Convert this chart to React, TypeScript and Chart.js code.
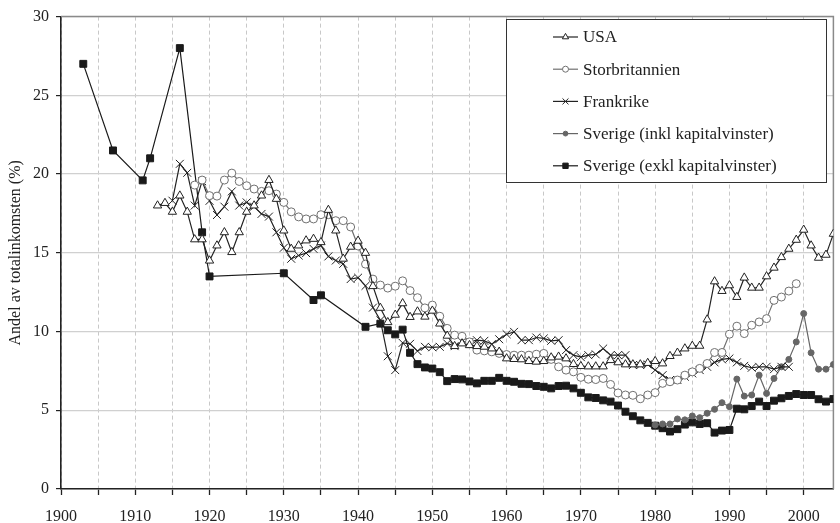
import React, { useEffect, useRef } from 'react';
import { Chart, registerables } from 'chart.js';

Chart.register(...registerables);

const FONT = '"Liberation Serif", "DejaVu Serif", serif';

const seriesNames = [
  'USA',
  'Storbritannien',
  'Frankrike',
  'Sverige (inkl kapitalvinster)',
  'Sverige (exkl kapitalvinster)',
];

const yTicks = [0, 5, 10, 15, 20, 25, 30];
const xGridYears = [
  1900, 1905, 1910, 1915, 1920, 1925, 1930, 1935, 1940, 1945, 1950,
  1955, 1960, 1965, 1970, 1975, 1980, 1985, 1990, 1995, 2000,
];
const xTickLabels = ['1900', '1910', '1920', '1930', '1940', '1950', '1960', '1970', '1980', '1990', '2000'];

// USA, 1913–2004
const usaStart = 1913;
const usaValues = [
  18.0, 18.16, 17.6, 18.63, 17.6, 15.85, 15.85, 14.5, 15.46, 16.3,
  15.04, 16.3, 17.6, 18.0, 18.63, 19.62, 18.42, 16.41, 15.25, 15.46,
  15.78, 15.88, 15.67, 17.72, 16.41, 14.62, 15.38, 15.76, 14.99, 12.88,
  11.5, 10.59, 11.06, 11.79, 10.92, 11.27, 10.94, 11.32, 10.5, 9.73,
  9.07, 9.24, 9.13, 9.07, 9.03, 8.92, 8.71, 8.29, 8.25, 8.23,
  8.12, 8.08, 8.12, 8.35, 8.4, 8.29, 7.93, 7.8, 7.78, 7.78,
  7.78, 8.18, 8.04, 7.91, 7.91, 7.91, 8.0, 8.12, 7.97, 8.44,
  8.65, 8.92, 9.09, 9.09, 10.76, 13.18, 12.57, 12.93, 12.19, 13.42,
  12.78, 12.78, 13.5, 14.05, 14.72, 15.25, 15.82, 16.46, 15.46, 14.68,
  14.87, 16.2,
];

// Storbritannien, 1918–1999
const ukStart = 1918;
const ukValues = [
  19.3, 19.62, 18.63, 18.6, 19.62, 20.06, 19.53, 19.26, 19.05, 18.9,
  18.94, 18.73, 18.2, 17.6, 17.28, 17.15, 17.15, 17.42, 17.42, 17.04,
  17.04, 16.64, 15.43, 14.28, 13.33, 12.95, 12.76, 12.88, 13.22, 12.6,
  12.15, 11.5, 11.68, 10.97, 10.2, 9.77, 9.7, 9.34, 8.82, 8.77,
  8.71, 8.61, 8.54, 8.5, 8.5, 8.5, 8.56, 8.61, 8.23, 7.76,
  7.55, 7.44, 7.09, 6.97, 6.95, 7.02, 6.64, 6.1, 5.97, 5.95,
  5.73, 5.97, 6.12, 6.71, 6.81, 6.92, 7.23, 7.44, 7.66, 7.97,
  8.67, 8.67, 9.83, 10.34, 9.87, 10.4, 10.61, 10.82, 11.98, 12.19,
  12.57, 13.04,
];

// Frankrike, 1915–1998
const frStart = 1915;
const frValues = [
  18.31, 20.65, 20.08, 18.0, 19.55, 18.3, 17.4, 17.93, 18.9, 18.0,
  18.2, 17.93, 17.47, 17.3, 16.3, 15.32, 14.62, 14.83, 14.98, 15.25,
  15.46, 14.77, 14.51, 14.3, 13.33, 13.42, 12.9, 11.52, 10.72, 8.43,
  7.55, 9.28, 9.22, 8.76, 9.03, 9.0, 9.03, 9.24, 9.07, 9.34,
  9.34, 9.45, 9.41, 9.2, 9.51, 9.83, 9.98, 9.45, 9.45, 9.62,
  9.56, 9.41, 9.45, 8.82, 8.5, 8.37, 8.5, 8.55, 8.92, 8.5,
  8.5, 8.5, 7.87, 7.87, 7.91, 7.55, 7.23, 6.92, 6.92, 7.13,
  7.34, 7.55, 7.76, 8.04, 8.23, 8.29, 8.04, 7.82, 7.7, 7.76,
  7.76, 7.61, 7.76, 7.76,
];

// Sverige inkl kapitalvinster, 1980–2004
const seInklStart = 1980;
const seInklValues = [
  4.07, 4.13, 4.13, 4.45, 4.39, 4.64, 4.53, 4.81, 5.06, 5.48,
  5.23, 6.98, 5.9, 5.97, 7.23, 6.07, 7.02, 7.76, 8.23, 9.34,
  11.14, 8.65, 7.61, 7.61, 7.91,
];

// Sverige exkl kapitalvinster: scattered early years, then 1943–2004
const seExklEarlyYears = [1903, 1907, 1911, 1912, 1916, 1919, 1920, 1930, 1934, 1935, 1941];
const seExklEarlyValues = [27.0, 21.5, 19.6, 21.0, 28.0, 16.3, 13.5, 13.7, 12.0, 12.3, 10.3];
const seExklStart = 1943;
const seExklValues = [
  10.5, 10.08, 9.82, 10.12, 8.65, 7.93, 7.72, 7.65, 7.42, 6.85,
  6.98, 6.96, 6.83, 6.71, 6.87, 6.87, 7.06, 6.87, 6.81, 6.68,
  6.66, 6.54, 6.49, 6.39, 6.54, 6.56, 6.39, 6.11, 5.82, 5.78,
  5.63, 5.55, 5.3, 4.91, 4.62, 4.36, 4.2, 4.02, 3.86, 3.65,
  3.8, 4.09, 4.23, 4.13, 4.18, 3.58, 3.71, 3.75, 5.1, 5.06,
  5.27, 5.55, 5.27, 5.61, 5.76, 5.91, 6.03, 5.97, 5.97, 5.7,
  5.55, 5.71,
];

const fromStart = (start: number, vals: number[]) => vals.map((v, i) => ({ x: start + i, y: v }));
const fromYears = (years: number[], vals: number[]) => vals.map((v, i) => ({ x: years[i], y: v }));

const styles = [
  { style: 'triangle', r: 4.8, bg: '#ffffff', bc: '#222222', line: '#222222', lr: 3.6 },
  { style: 'circle', r: 4, bg: '#ffffff', bc: '#707070', line: '#707070', lr: 3 },
  { style: 'crossRot', r: 5.6, bg: '#222222', bc: '#222222', line: '#222222', lr: 4.2 },
  { style: 'circle', r: 3, bg: '#666666', bc: '#666666', line: '#666666', lr: 2.4 },
  { style: 'rect', r: 4.9, bg: '#1a1a1a', bc: '#1a1a1a', line: '#1a1a1a', lr: 3.8 },
];

function drawMarker(ctx: CanvasRenderingContext2D, kind: string, x: number, y: number, r: number, bg: string, bc: string) {
  ctx.save();
  ctx.lineWidth = 1;
  ctx.strokeStyle = bc;
  ctx.fillStyle = bg;
  ctx.beginPath();
  if (kind === 'triangle') {
    ctx.moveTo(x, y - r);
    ctx.lineTo(x + r * 0.866, y + r * 0.5);
    ctx.lineTo(x - r * 0.866, y + r * 0.5);
    ctx.closePath();
    ctx.fill();
    ctx.stroke();
  } else if (kind === 'circle') {
    ctx.arc(x, y, r, 0, Math.PI * 2);
    ctx.fill();
    ctx.stroke();
  } else if (kind === 'crossRot') {
    const d = r * 0.707;
    ctx.moveTo(x - d, y - d);
    ctx.lineTo(x + d, y + d);
    ctx.moveTo(x + d, y - d);
    ctx.lineTo(x - d, y + d);
    ctx.stroke();
  } else {
    const s = r * 0.707;
    ctx.rect(x - s, y - s, 2 * s, 2 * s);
    ctx.fill();
    ctx.stroke();
  }
  ctx.restore();
}

const framePlugin = {
  id: 'frame',
  beforeDatasetsDraw(chart: any) {
    const { ctx, chartArea } = chart;
    ctx.save();
    ctx.strokeStyle = '#8a8a8a';
    ctx.lineWidth = 1.5;
    ctx.beginPath();
    ctx.moveTo(chartArea.left, chartArea.top);
    ctx.lineTo(chartArea.right, chartArea.top);
    ctx.lineTo(chartArea.right, chartArea.bottom);
    ctx.stroke();
    ctx.restore();
  },
};

const legendPlugin = {
  id: 'boxLegend',
  afterDatasetsDraw(chart: any) {
    const { ctx } = chart;
    const bx = 506.5, by = 19.5, bw = 320, bh = 163;
    ctx.save();
    ctx.fillStyle = '#ffffff';
    ctx.fillRect(bx, by, bw, bh);
    ctx.strokeStyle = '#333333';
    ctx.lineWidth = 1;
    ctx.strokeRect(bx, by, bw, bh);
    ctx.font = `17px ${FONT}`;
    ctx.textBaseline = 'middle';
    ctx.textAlign = 'left';
    seriesNames.forEach((name, i) => {
      const y = 37 + i * 32.2;
      const s = styles[i];
      ctx.strokeStyle = s.line;
      ctx.lineWidth = 1.2;
      ctx.beginPath();
      ctx.moveTo(553, y);
      ctx.lineTo(578, y);
      ctx.stroke();
      drawMarker(ctx, s.style, 565.5, y, s.lr, s.bg, s.bc);
      ctx.fillStyle = '#222222';
      ctx.fillText(name, 583, y + 1);
    });
    ctx.restore();
  },
};

export default function App() {
  const ref = useRef<HTMLCanvasElement | null>(null);

  useEffect(() => {
    document.body.style.margin = '0';
    const canvas = ref.current;
    if (!canvas) return;

    const allData = [
      fromStart(usaStart, usaValues),
      fromStart(ukStart, ukValues),
      fromStart(frStart, frValues),
      fromStart(seInklStart, seInklValues),
      [...fromYears(seExklEarlyYears, seExklEarlyValues), ...fromStart(seExklStart, seExklValues)],
    ];

    const chart = new Chart(canvas, {
      type: 'line',
      data: {
        datasets: allData.map((d, i) => ({
          label: seriesNames[i],
          data: d,
          borderColor: styles[i].line,
          borderWidth: 1.2,
          pointStyle: styles[i].style as any,
          pointRadius: styles[i].r,
          pointBackgroundColor: styles[i].bg,
          pointBorderColor: styles[i].bc,
          pointBorderWidth: 1,
          tension: 0,
          fill: false,
        })),
      },
      options: {
        animation: false,
        responsive: false,
        devicePixelRatio: 1,
        layout: { padding: { top: 15, right: 3, left: 0, bottom: 0 } },
        plugins: {
          legend: { display: false },
          tooltip: { enabled: false },
        },
        scales: {
          x: {
            type: 'linear',
            min: 1900,
            max: 2004,
            afterBuildTicks: (scale: any) => {
              scale.ticks = xGridYears.map((v) => ({ value: v }));
            },
            afterFit: (scale: any) => {
              scale.height = 34;
            },
            ticks: {
              autoSkip: false,
              maxRotation: 0,
              padding: 12,
              color: '#222',
              font: { family: FONT, size: 16 },
              callback: (v: any) => {
                const s = String(Math.round(Number(v)));
                return xTickLabels.includes(s) ? s : '';
              },
            },
            grid: {
              color: '#c8c8c8',
              lineWidth: 1,
              tickColor: '#222',
              tickLength: 6,
              tickWidth: 1.3,
            },
            border: { display: true, color: '#222', width: 1.6, dash: [4, 3] },
          },
          y: {
            min: 0,
            max: 30,
            afterBuildTicks: (scale: any) => {
              scale.ticks = yTicks.map((v) => ({ value: v }));
            },
            afterFit: (scale: any) => {
              scale.width = 61;
            },
            ticks: {
              padding: 7,
              color: '#222',
              font: { family: FONT, size: 16 },
            },
            grid: {
              color: '#d0d0d0',
              lineWidth: 1.2,
              tickColor: '#222',
              tickLength: 5,
            },
            border: { display: true, color: '#222', width: 1.6 },
            title: {
              display: true,
              text: 'Andel av totalinkomsten (%)',
              color: '#222',
              font: { family: FONT, size: 16 },
              padding: { top: 6, bottom: 0 },
            },
          },
        },
      },
      plugins: [framePlugin, legendPlugin],
    });

    return () => chart.destroy();
  }, []);

  return (
    <div style={{ width: 840, height: 523 }}>
      <canvas ref={ref} width={840} height={523} style={{ display: 'block' }} />
    </div>
  );
}
